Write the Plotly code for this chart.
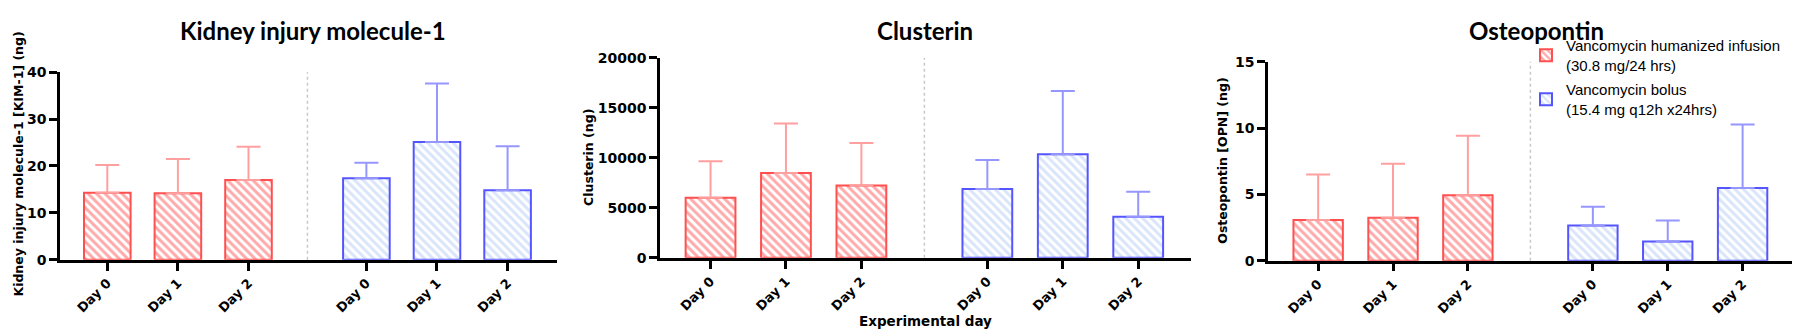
import plotly.graph_objects as go

# ---------------- data ----------------
days = ["Day 0", "Day 1", "Day 2"]
group_names = [
    "Vancomycin humanized infusion<br>(30.8 mg/24 hrs)",
    "Vancomycin bolus<br>(15.4 mg q12h x24hrs)",
]
panel_titles = ["Kidney injury molecule-1", "Clusterin", "Osteopontin"]
y_titles = ["Kidney injury molecule-1 [KIM-1] (ng)", "Clusterin (ng)", "Osteopontin [OPN] (ng)"]

kim_infusion_mean = [14.3, 14.2, 17.0]
kim_infusion_sd = [5.9, 7.3, 7.1]
kim_bolus_mean = [17.4, 25.1, 14.8]
kim_bolus_sd = [3.3, 12.5, 9.4]

clu_infusion_mean = [6020, 8490, 7230]
clu_infusion_sd = [3650, 4950, 4250]
clu_bolus_mean = [6880, 10360, 4120]
clu_bolus_sd = [2920, 6340, 2500]

opn_infusion_mean = [3.07, 3.24, 4.94]
opn_infusion_sd = [3.42, 4.07, 4.48]
opn_bolus_mean = [2.66, 1.44, 5.49]
opn_bolus_sd = [1.41, 1.60, 4.77]

y_max = [40, 20000, 15]
y_dtick = [10, 5000, 5]

# ---------------- style ----------------
W, H = 1800, 335
RED_LINE = "rgb(255,80,80)"
RED_STRIPE = "rgb(255,85,85)"
RED_ERR = "rgb(255,160,160)"
BLUE_LINE = "rgb(85,85,255)"
BLUE_STRIPE = "rgb(180,203,245)"
BLUE_ERR = "rgb(150,150,255)"
BOLD = "DejaVu Sans"

group_gap = 1.67
x_range = [-0.67, 6.37]
# pixel boxes of the three plot areas: (left, right, top, bottom)
boxes = [(52, 549, 59, 256), (652, 1183, 44, 254), (1260, 1787, 48, 257)]
title_px = [(305, 15), (917, 15), (1528, 15)]
ytitle_px = [(11, 156), (581, 149), (1215, 152)]

data = [
    (kim_infusion_mean, kim_infusion_sd, kim_bolus_mean, kim_bolus_sd),
    (clu_infusion_mean, clu_infusion_sd, clu_bolus_mean, clu_bolus_sd),
    (opn_infusion_mean, opn_infusion_sd, opn_bolus_mean, opn_bolus_sd),
]

x_inf = [i for i in range(len(days))]
x_bol = [i + len(days) + group_gap - 1 for i in range(len(days))]
sep_x = (x_inf[-1] + x_bol[0]) / 2

fig = go.Figure()
annotations = []
shapes = []

for p in range(3):
    inf_m, inf_sd, bol_m, bol_sd = data[p]
    xa = "x" if p == 0 else f"x{p+1}"
    ya = "y" if p == 0 else f"y{p+1}"
    for (xs, m, sd, line_c, stripe_c, err_c, name, grp) in [
        (x_inf, inf_m, inf_sd, RED_LINE, RED_STRIPE, RED_ERR, group_names[0], "inf"),
        (x_bol, bol_m, bol_sd, BLUE_LINE, BLUE_STRIPE, BLUE_ERR, group_names[1], "bol"),
    ]:
        fig.add_trace(go.Bar(
            x=xs, y=m, width=0.66, name=name, legendgroup=grp,
            showlegend=(p == 0), xaxis=xa, yaxis=ya,
            marker=dict(color="white", line=dict(color=line_c, width=2),
                        pattern=dict(shape="\\", fgcolor=stripe_c, bgcolor="white",
                                     size=6, solidity=0.5)),
            error_y=dict(type="data", array=sd, arrayminus=[0] * len(sd), symmetric=False,
                         color=err_c, thickness=2, width=12),
        ))
    l, r, t, b = boxes[p]
    axkey = "xaxis" if p == 0 else f"xaxis{p+1}"
    aykey = "yaxis" if p == 0 else f"yaxis{p+1}"
    fig.update_layout({
        axkey: dict(domain=[l / W, r / W], range=x_range, anchor=ya,
                    tickvals=x_inf + x_bol, ticktext=days * 2, tickangle=-45,
                    showline=True, linecolor="black", linewidth=2.5,
                    ticks="outside", ticklen=8, tickwidth=2.5, tickcolor="black",
                    showgrid=False, zeroline=False,
                    tickfont=dict(family=BOLD, size=13, color="black", weight="bold")),
        aykey: dict(domain=[1 - b / H, 1 - t / H], range=[0, y_max[p]], anchor=xa,
                    dtick=y_dtick[p], tick0=0, tickformat="d",
                    showline=True, linecolor="black", linewidth=2.5,
                    ticks="outside", ticklen=8, tickwidth=2.5, tickcolor="black",
                    showgrid=False, zeroline=False,
                    tickfont=dict(family=BOLD, size=14, color="black", weight="bold")),
    })
    shapes.append(dict(type="line", xref=xa, x0=sep_x, x1=sep_x,
                       yref=f"{ya} domain", y0=0, y1=1,
                       line=dict(color="rgb(200,200,200)", width=1.5, dash="dot")))
    tx, ty = title_px[p]
    annotations.append(dict(text=panel_titles[p], xref="paper", yref="paper",
                            x=tx / W, y=1 - ty / H, xanchor="center", yanchor="middle",
                            showarrow=False,
                            font=dict(family="Lato", size=24, color="black", weight="bold")))
    yx, yy = ytitle_px[p]
    annotations.append(dict(text=y_titles[p], xref="paper", yref="paper",
                            x=yx / W, y=1 - yy / H, xanchor="center", yanchor="middle",
                            textangle=-90, showarrow=False,
                            font=dict(family=BOLD, size=12.5, color="black", weight="bold")))

annotations.append(dict(text="Experimental day", xref="paper", yref="paper",
                        x=917 / W, y=1 - 320 / H, xanchor="center", yanchor="middle",
                        showarrow=False,
                        font=dict(family=BOLD, size=13.5, color="black", weight="bold")))

fig.update_layout(
    width=W, height=H,
    margin=dict(l=0, r=0, t=0, b=0),
    paper_bgcolor="white", plot_bgcolor="white",
    barmode="overlay",
    shapes=shapes, annotations=annotations,
    showlegend=True,
    legend=dict(x=1518 / W, y=1 - 14 / H, xanchor="left", yanchor="top",
                bgcolor="rgba(0,0,0,0)", tracegroupgap=2,
                font=dict(family="Liberation Sans", size=15, color="black")),
)

fig.write_html("out.html")
